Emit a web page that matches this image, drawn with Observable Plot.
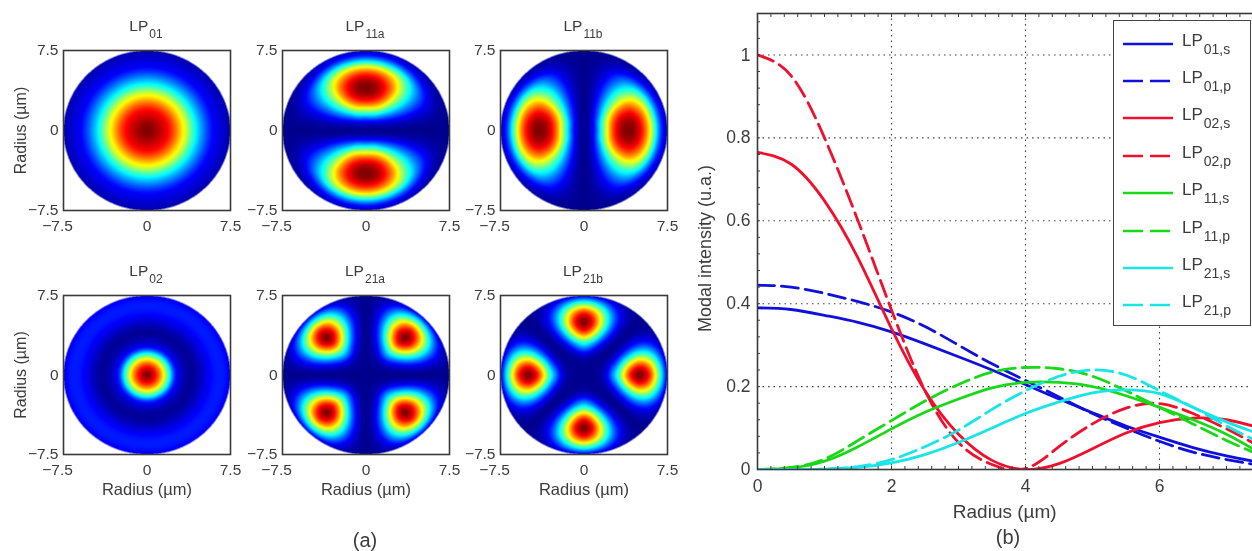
<!DOCTYPE html>
<html><head><meta charset="utf-8">
<script src="https://cdn.jsdelivr.net/npm/d3@7"></script>
<script src="https://cdn.jsdelivr.net/npm/@observablehq/plot@0.6"></script>
<style>
html,body{margin:0;padding:0;background:#fff;overflow:hidden}
#page{position:relative;width:1252px;height:551px;overflow:hidden;font-family:"Liberation Sans",Arial,sans-serif;color:#3c3c3c;filter:blur(.55px)}
#page>*{position:absolute}
.title{font-size:15.5px;text-align:center;transform:translateX(-50%);white-space:nowrap;line-height:16px}
.title sub{font-size:12px;vertical-align:-7px;line-height:0;margin-left:1px}
.cap{font-size:20px;transform:translateX(-50%)}
#legend{left:1113px;top:20px;width:136px;height:304px;background:#fff;border:1.5px solid #444}
.entry{position:absolute;left:0;height:30px;width:136px}
.entry svg{position:absolute;left:9px;top:14px}
.entry span{position:absolute;left:68px;top:4px;font-size:17px;line-height:18px;white-space:nowrap}
.entry sub{font-size:14px;vertical-align:-8px;line-height:0;margin-left:1px}
</style></head><body><div id="page"></div>
<script>
// Right panel: radius samples (µm) and modal intensity
const radius = [0,.5,1,1.5,2,2.5,3,3.5,4,4.5,5,5.5,6,6.5,7,7.5];
const lp01s = [.39,.386,.372,.355,.332,.303,.272,.24,.205,.17,.137,.105,.078,.053,.033,.017];
const lp01p = [.445,.44,.425,.405,.38,.345,.30,.255,.215,.175,.135,.10,.068,.042,.024,.01];
const lp02s = [.765,.737,.648,.51,.34,.19,.085,.022,0,.014,.05,.088,.113,.124,.12,.10];
const lp02p = [1,.95,.80,.60,.385,.19,.065,.012,.002,.055,.11,.148,.159,.135,.098,.055];
const lp11s = [0,.004,.02,.055,.098,.138,.17,.197,.21,.21,.2,.178,.15,.12,.085,.04];
const lp11p = [0,.005,.025,.07,.118,.165,.205,.235,.246,.243,.225,.19,.15,.11,.07,.035];
const lp21s = [0,0,.001,.005,.016,.036,.065,.10,.135,.163,.185,.192,.183,.15,.115,.085];
const lp21p = [0,0,.001,.007,.024,.055,.095,.145,.19,.225,.24,.228,.19,.15,.105,.065];
const seriesNames = ["01,s","01,p","02,s","02,p","11,s","11,p","21,s","21,p"];
const seriesValues = [lp01s,lp01p,lp02s,lp02p,lp11s,lp11p,lp21s,lp21p];
const seriesColors = ["#1010dc","#1010dc","#f0102e","#f0102e","#18d818","#18d818","#18e6e6","#18e6e6"];
const seriesDashed = [false,true,false,true,false,true,false,true];

// Left panels: normalised intensity against radius (same radius samples)
const fieldLP01 = [1,.985,.95,.91,.86,.78,.68,.58,.46,.35,.26,.18,.12,.09,.06,.04];
const fieldLP02 = [1,.93,.80,.62,.40,.17,.075,.03,.01,.03,.07,.11,.14,.15,.14,.11];
const fieldLP11 = [0,.05,.17,.375,.58,.77,.9,.98,1,.98,.9,.78,.6,.36,.16,.07];
const fieldLP21 = [0,0,.005,.03,.10,.24,.40,.6,.8,.94,1,.94,.8,.58,.34,.13];
// Intensity from a lobe's crest (first) to the dark node beside it (last), evenly spaced
const lobe1 = [1,.95,.78,.5,.25,.07,0];
const lobe2 = [1,.9,.68,.42,.2,.06,0];
const panelTitles = ["01","11a","11b","02","21a","21b"];
const panelField = [fieldLP01,fieldLP11,fieldLP11,fieldLP02,fieldLP21,fieldLP21];
const panelLobes = [0,1,1,0,2,2];      // azimuthal order
const panelCrest = [0,90,0,0,45,0];    // angle of a crest, degrees
const panelLeft = [63,282,500,63,282,500];
const panelTop = [50,50,50,295,295,295];
const jet = ["#00008f","#0000ff","#0080ff","#00ffff","#80ff80","#ffff00","#ff8000","#ff0000","#800000"];

// Catmull-Rom lookup in an evenly spaced sample list, t in [0,1], mirrored at both ends
function sampled(a,t){
  const n=a.length-1,p=Math.max(0,Math.min(n,t*n)),i=Math.min(n-1,Math.floor(p)),u=p-i;
  const g=k=>a[k<0?-k:k>n?2*n-k:k];
  const p0=g(i-1),p1=g(i),p2=g(i+1),p3=g(i+2);
  return .5*(2*p1+(p2-p0)*u+(2*p0-5*p1+4*p2-p3)*u*u+(3*p1-p0-3*p2+p3)*u*u*u);
}
const page=document.getElementById("page");
const fmt=d=>d===0?"0":(d<0?"\u2212":"")+Math.abs(d);
const font={fontFamily:"Liberation Sans, Arial, sans-serif",fontSize:"15.5px",color:"#3c3c3c",background:"transparent",overflow:"visible"};

panelTitles.forEach((t,i)=>{
  const W=167,H=i<3?160:159,mL=55,mT=12,mB=62,mR=30;
  const l=panelLobes[i],crest=panelCrest[i],field=panelField[i],lobe=l===2?lobe2:lobe1;
  const value=(x,y)=>{
    const r=Math.hypot(x,y);
    if(r>7.5) return NaN;
    let v=Math.max(0,Math.min(1,sampled(field,r/7.5)));
    if(l>0){
      const th=Math.atan2(y,x)*180/Math.PI-crest;
      const per=180/l;
      let d=((th%per)+per)%per; if(d>per/2) d=per-d;
      v*=Math.max(0,sampled(lobe,d/(per/2)));
    }
    return v;
  };
  const marks=[
    Plot.raster({fill:value,x1:-7.5,x2:7.5,y1:-7.5,y2:7.5,pixelSize:.5,imageRendering:"auto"}),
    Plot.frame({stroke:"#3a3a3a",strokeWidth:1.6}),
    Plot.axisX([-7.5],{anchor:"bottom",tickSize:0,tickPadding:9,dx:-6,tickFormat:fmt,label:null}),
    Plot.axisX([0,7.5],{anchor:"bottom",tickSize:0,tickPadding:9,tickFormat:fmt,label:null}),
    Plot.axisY([-7.5,0,7.5],{anchor:"left",tickSize:0,tickPadding:5,tickFormat:fmt,label:null}),
  ];
  if(i>=3) marks.push(Plot.text(["Radius (µm)"],{frameAnchor:"bottom",dy:40,fontSize:16.5}));
  if(i%3===0) marks.push(Plot.text(["Radius (µm)"],{frameAnchor:"left",textAnchor:"middle",rotate:-90,dx:-43,fontSize:16}));
  const chart=Plot.plot({width:W+mL+mR,height:H+mT+mB,marginLeft:mL,marginRight:mR,marginTop:mT,marginBottom:mB,
    x:{domain:[-7.5,7.5]},y:{domain:[-7.5,7.5]},
    color:{type:"linear",domain:[0,1],interpolate:d3.piecewise(d3.interpolateRgb,jet)},
    style:font,marks});
  chart.style.left=(panelLeft[i]-mL)+"px"; chart.style.top=(panelTop[i]-mT)+"px";
  page.appendChild(chart);
  const d=document.createElement("div");
  d.className="title"; d.innerHTML=`LP<sub>${t}</sub>`;
  d.style.left=(panelLeft[i]+83)+"px"; d.style.top=(panelTop[i]-32)+"px";
  page.appendChild(d);
});

// Right chart
const xMinor=d3.range(0,7.51,.2), yMinor=d3.range(0,1.101,.04);
const lines=seriesValues.map((vals,k)=>Plot.line(vals.map((v,j)=>({x:radius[j],y:v})),{
  x:"x",y:"y",stroke:seriesColors[k],strokeWidth:2.8,curve:"natural",clip:true,
  strokeDasharray:seriesDashed[k]?"17,7":null}));
const right=Plot.plot({width:575,height:529,marginLeft:67,marginRight:5.5,marginTop:13,marginBottom:60,
  x:{domain:[0,7.5]},y:{domain:[0,1.1]},
  style:{...font,fontSize:"17.5px"},
  marks:[
    Plot.gridX([2,4,6],{stroke:"#222",strokeOpacity:.85,strokeWidth:1.1,strokeDasharray:"1.5,4"}),
    Plot.gridY([.2,.4,.6,.8,1],{stroke:"#222",strokeOpacity:.85,strokeWidth:1.1,strokeDasharray:"1.5,4"}),
    ...lines,
    Plot.frame({stroke:"#3a3a3a",strokeWidth:1.6}),
    Plot.axisX(xMinor,{anchor:"bottom",tickSize:-3,text:null,label:null}),
    Plot.axisX(xMinor,{anchor:"top",tickSize:-3,text:null,label:null}),
    Plot.axisY(yMinor,{anchor:"left",tickSize:-3,text:null,label:null}),
    Plot.axisX([0,2,4,6],{anchor:"bottom",tickSize:0,tickPadding:10,tickFormat:fmt,label:null}),
    Plot.axisY([0,.2,.4,.6,.8,1],{anchor:"left",tickSize:0,tickPadding:7,tickFormat:d=>d===0?"0":String(d),label:null}),
    Plot.text(["Radius (µm)"],{frameAnchor:"bottom",dx:-4,dy:48,fontSize:19}),
    Plot.text(["Modal intensity (u.a.)"],{frameAnchor:"left",textAnchor:"middle",rotate:-90,dx:-52,dy:7,fontSize:18}),
  ]});
right.style.left="690px"; right.style.top="0px";
page.appendChild(right);

// Legend
const leg=document.createElement("div"); leg.id="legend";
seriesNames.forEach((n,k)=>{
  const e=document.createElement("div"); e.className="entry"; e.style.top=(6.5+k*37.4)+"px";
  e.innerHTML=`<svg width="52" height="4"><line x1="0" x2="50" y1="2" y2="2" stroke="${seriesColors[k]}" stroke-width="2.6" ${seriesDashed[k]?'stroke-dasharray="20,7"':''}/></svg><span>LP<sub>${n}</sub></span>`;
  leg.appendChild(e);
});
page.appendChild(leg);

[["(a)",365,529],["(b)",1008,526]].forEach(([t,x,y])=>{
  const c=document.createElement("div"); c.className="cap"; c.textContent=t;
  c.style.left=x+"px"; c.style.top=y+"px"; page.appendChild(c);
});
</script></body></html>
